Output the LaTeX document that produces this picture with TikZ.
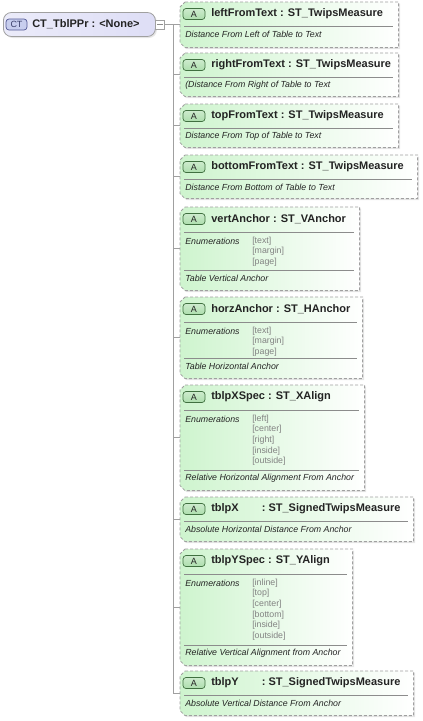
\documentclass[tikz,border=0pt]{standalone}
\usepackage{fontspec}
\setmainfont{Liberation Sans}
\usetikzlibrary{shadows}
\definecolor{attrgreen}{RGB}{206,244,206}
\definecolor{badgegreen}{RGB}{172,222,172}
\definecolor{badgeline}{RGB}{64,112,64}
\definecolor{rootfill}{RGB}{222,222,246}
\definecolor{ctfill}{RGB}{200,206,238}
\definecolor{ctline}{RGB}{84,90,150}
\definecolor{edgegray}{RGB}{160,160,160}
\definecolor{sepgray}{RGB}{140,140,140}
\definecolor{enumgray}{RGB}{130,130,130}
\definecolor{inkgray}{RGB}{35,35,35}
\begin{document}
\begin{tikzpicture}[x=1pt,y=-1pt,line width=.6pt,
  attrbox/.style={rectangle,inner sep=0pt,anchor=north west},
  attrframe/.style={draw=edgegray,dash pattern=on 3pt off 2pt,line width=.8pt,
    left color=attrgreen,middle color=white!55!attrgreen,right color=white,
    drop shadow={shadow xshift=1.5pt,shadow yshift=-1.5pt,opacity=.2}},
  rootbox/.style={rounded corners=8pt,draw=edgegray,line width=.8pt,inner sep=0pt,
    left color=white!40!rootfill,right color=rootfill,drop shadow={shadow xshift=1.5pt,shadow yshift=-1.5pt,opacity=.2}},
  abadge/.style={rounded corners=3pt,draw=badgeline,line width=.7pt,top color=white!40!badgegreen,bottom color=badgegreen,
    minimum width=22pt,minimum height=11pt,inner sep=0pt,font=\fontsize{9}{9}\selectfont,text=inkgray},
  ctbadge/.style={rounded corners=3pt,draw=ctline,line width=.7pt,fill=ctfill,
    minimum width=21pt,minimum height=11pt,inner sep=0pt,font=\fontsize{9}{9}\selectfont,text=ctline!70!black},
  toggle/.style={draw=edgegray,fill=white,minimum width=9pt,minimum height=9pt,inner sep=0pt},
  titletext/.style={anchor=west,inner sep=0pt,text=inkgray,font=\fontsize{11}{12}\selectfont\bfseries},
  desctext/.style={anchor=west,inner sep=0pt,text=inkgray,font=\fontsize{8.8}{10}\selectfont\itshape},
  enumtext/.style={anchor=west,inner sep=0pt,text=enumgray,font=\fontsize{8.8}{10}\selectfont},
  sepline/.style={draw=sepgray,line width=.6pt},
  conn/.style={draw=edgegray,line width=.7pt}]
\useasboundingbox (0,0) rectangle (423,721);
\def\chamfer#1{\path[attrframe] ([xshift=5pt]#1.north west) -- (#1.north east) -- (#1.south east)
  -- ([xshift=5pt]#1.south west) -- ([yshift=5pt]#1.south west) -- ([yshift=-5pt]#1.north west) -- cycle;}
% root element
\node[rootbox,minimum width=152pt,minimum height=24pt,anchor=west] (root) at (3,24.5) {};
\node[ctbadge] (ct) at (16.5,24.5) {CT};
\node[titletext] (rootname) at (32,24.5) {CT\_TblPPr : <None>};
\node[toggle] (tog) at (160,24.5) {};
\draw[sepgray] ([xshift=2pt]tog.west) -- ([xshift=-2pt]tog.east);
\coordinate (bus) at (173,24.5);
% plain attributes
\foreach \n/\t/\h/\r/\p/\ty/\d in {leftFromText/2/45/398/0pt/TwipsMeasure/Distance From Left of Table to Text,
  rightFromText/53/43/398/0pt/TwipsMeasure/(Distance From Right of Table to Text,
  topFromText/104/43/398/0pt/TwipsMeasure/Distance From Top of Table to Text,
  bottomFromText/155/43/417/0pt/TwipsMeasure/Distance From Bottom of Table to Text,
  tblpX/497/44/413/20pt/SignedTwipsMeasure/Absolute Horizontal Distance From Anchor,
  tblpY/671/44/413/20pt/SignedTwipsMeasure/Absolute Vertical Distance From Anchor}{
  \node[attrbox,minimum width={\r-180},minimum height=\h] (\n) at (180,\t) {};
  \chamfer{\n}
  \node[abadge] (\n-a) at (194,{\t+12}) {A};
  \node[titletext] (\n-title) at (211,{\t+12}) {\n\hspace{\p} : ST\_\ty};
  \draw[sepline] (184,{\t+24.5}) -- ({\r-5},{\t+24.5});
  \node[desctext] (\n-desc) at (185,{\t+32}) {\d};
  \draw[conn] (\n.west) -- (\n.west -| bus);
}
% enumerated attributes
\foreach \n/\t/\b/\r/\ty/\vals/\d in {vertAnchor/207/290/359/VAnchor/{text,margin,page}/Table Vertical Anchor,
  horzAnchor/297/378/362/HAnchor/{text,margin,page}/Table Horizontal Anchor,
  tblpXSpec/385/490/364/XAlign/{left,center,right,inside,outside}/Relative Horizontal Alignment From Anchor,
  tblpYSpec/549/665/352/YAlign/{inline,top,center,bottom,inside,outside}/Relative Vertical Alignment from Anchor}{
  \node[attrbox,minimum width={\r-180},minimum height={\b-\t}] (\n) at (180,\t) {};
  \chamfer{\n}
  \node[abadge] (\n-a) at (194,{\t+12}) {A};
  \node[titletext] (\n-title) at (211,{\t+12}) {\n{} : ST\_\ty};
  \draw[sepline] (184,{\t+25}) -- ({\r-5},{\t+25});
  \node[desctext] (\n-enum) at (185,{\t+34}) {Enumerations};
  \foreach \v [count=\k] in \vals {\node[enumtext] at (252,{\t+34+10.6*(\k-1)}) {[\v]};}
  \draw[sepline] (184,{\b-20}) -- ({\r-5},{\b-20});
  \node[desctext] (\n-desc) at (185,{\b-12}) {\d};
  \draw[conn] (\n.west) -- (\n.west -| bus);
}
\draw[conn] (tog) -- (bus) -- (tblpY.west -| bus);
\end{tikzpicture}
\end{document}
